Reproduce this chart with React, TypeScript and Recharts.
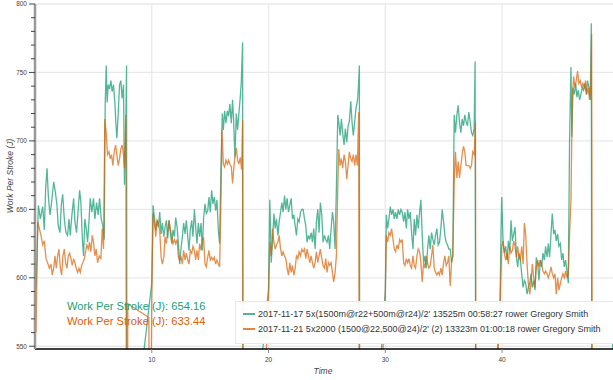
import { LineChart, Line, XAxis, YAxis, CartesianGrid } from "recharts";

const GREEN = "#1b9e77";
const ORANGE = "#d95f02";

const greenSession =
  "2017-11-17 5x(1500m@r22+500m@r24)/2' 13525m 00:58:27 rower Gregory Smith";
const orangeSession =
  "2017-11-21 5x2000 (1500@22,500@24)/2' (2) 13323m 01:00:18 rower Gregory Smith";

const greenAverage = 654.16;
const orangeAverage = 633.44;

const xTicks = [10, 20, 30, 40];
const yTicks = [
  550, 560, 570, 580, 590, 600, 610, 620, 630, 640, 650, 660, 670, 680, 690,
  700, 710, 720, 730, 740, 750, 760, 770, 780, 790, 800,
];
const yGrid = [550, 600, 650, 700, 750, 800];

// [time (min), work per stroke (J)]
const greenPoints: [number, number][] = [
  // interval 1
  [0.09, 592], [0.29, 653], [0.46, 643], [0.66, 652], [0.8, 635], [0.91, 665], [1.03, 680], [1.14, 660],
  [1.28, 646], [1.42, 655], [1.6, 670], [1.74, 663], [1.88, 653], [1.99, 638], [2.14, 633], [2.25, 653],
  [2.37, 661], [2.51, 643], [2.65, 633], [2.79, 631], [2.91, 643], [3.02, 631], [3.16, 646], [3.31, 658],
  [3.42, 641], [3.56, 633], [3.7, 650], [3.82, 664], [3.93, 655], [4.07, 626], [4.16, 616], [4.27, 643],
  [4.39, 636], [4.5, 626], [4.62, 641], [4.73, 658], [4.87, 648], [5.01, 658], [5.13, 643], [5.27, 655],
  [5.41, 646], [5.53, 658], [5.67, 643], [5.81, 638], [5.93, 628], [6.01, 726], [6.1, 755], [6.18, 728],
  [6.27, 741], [6.38, 738], [6.5, 744], [6.61, 736], [6.72, 741], [6.84, 728], [6.92, 714], [7.01, 702],
  [7.12, 719], [7.24, 741], [7.35, 744], [7.46, 731], [7.58, 741], [7.66, 668], [7.75, 694], [7.84, 755],
  [7.89, 300], [8.6, 250], [9.1, 530],
  // interval 2
  [10.0, 596], [10.11, 653], [10.23, 644], [10.34, 635], [10.46, 642], [10.57, 637], [10.68, 648], [10.8, 632],
  [10.91, 640], [11.03, 630], [11.14, 637], [11.25, 642], [11.37, 629], [11.48, 642], [11.6, 632], [11.71, 625],
  [11.82, 635], [11.94, 630], [12.05, 644], [12.17, 637], [12.28, 625], [12.39, 610], [12.51, 622], [12.62, 630],
  [12.73, 640], [12.85, 632], [12.96, 642], [13.08, 630], [13.19, 620], [13.3, 635], [13.42, 642], [13.53, 630],
  [13.65, 650], [13.76, 637], [13.87, 625], [13.99, 640], [14.1, 630], [14.22, 640], [14.33, 620], [14.44, 644],
  [14.56, 654], [14.67, 647], [14.79, 649], [14.9, 659], [15.01, 648], [15.13, 664], [15.24, 654], [15.36, 659],
  [15.47, 649], [15.58, 657], [15.7, 635], [15.81, 625], [15.93, 683], [16.04, 720], [16.13, 708], [16.24, 722],
  [16.35, 713], [16.47, 722], [16.58, 718], [16.69, 727], [16.81, 713], [16.92, 730], [17.01, 715], [17.12, 688],
  [17.24, 720], [17.35, 708], [17.46, 720], [17.58, 732], [17.66, 742], [17.78, 772], [17.83, 300],
  [18.5, 250], [19.2, 520],
  // interval 3
  [20.0, 592], [20.11, 657], [20.23, 611], [20.34, 626], [20.46, 647], [20.57, 636], [20.68, 643], [20.8, 631],
  [20.91, 641], [21.03, 648], [21.14, 655], [21.25, 648], [21.37, 660], [21.48, 650], [21.59, 658], [21.71, 648],
  [21.82, 653], [21.94, 658], [22.05, 643], [22.17, 646], [22.28, 638], [22.39, 631], [22.51, 643], [22.62, 641],
  [22.74, 648], [22.85, 650], [22.96, 650], [23.08, 643], [23.19, 638], [23.3, 626], [23.42, 631], [23.53, 628],
  [23.65, 633], [23.76, 626], [23.87, 636], [23.99, 621], [24.1, 641], [24.22, 650], [24.33, 633], [24.44, 655],
  [24.56, 646], [24.67, 626], [24.79, 631], [24.9, 628], [25.01, 626], [25.13, 631], [25.24, 621], [25.36, 636],
  [25.47, 648], [25.58, 641], [25.7, 621], [25.81, 665], [25.93, 719], [26.01, 714], [26.13, 704], [26.24, 716],
  [26.35, 706], [26.47, 697], [26.58, 709], [26.7, 699], [26.81, 711], [26.92, 714], [27.04, 729], [27.15, 714],
  [27.26, 704], [27.38, 714], [27.49, 724], [27.61, 729], [27.69, 738], [27.78, 755], [27.83, 300],
  [28.5, 250], [29.3, 500],
  // interval 4
  [30.0, 590], [30.09, 646], [30.2, 636], [30.31, 643], [30.43, 652], [30.54, 646], [30.66, 650], [30.77, 643],
  [30.88, 648], [31.0, 643], [31.11, 650], [31.23, 646], [31.34, 650], [31.45, 648], [31.57, 641], [31.68, 648],
  [31.8, 636], [31.91, 650], [32.02, 643], [32.14, 648], [32.25, 633], [32.37, 621], [32.48, 643], [32.59, 631],
  [32.71, 646], [32.82, 636], [32.94, 648], [33.05, 657], [33.16, 631], [33.28, 611], [33.39, 616], [33.51, 607],
  [33.62, 621], [33.73, 631], [33.85, 621], [33.96, 633], [34.07, 628], [34.19, 624], [34.3, 631], [34.42, 636],
  [34.53, 624], [34.64, 626], [34.76, 636], [34.87, 650], [34.99, 641], [35.1, 631], [35.21, 626], [35.33, 624],
  [35.44, 621], [35.56, 621], [35.67, 611], [35.78, 616], [35.9, 719], [36.01, 706], [36.13, 719], [36.24, 726],
  [36.35, 714], [36.47, 706], [36.58, 716], [36.7, 711], [36.81, 719], [36.92, 714], [37.04, 711], [37.15, 721],
  [37.27, 714], [37.38, 706], [37.49, 704], [37.61, 709], [37.69, 758], [37.78, 300],
  [38.5, 250], [39.2, 480],
  // interval 5
  [39.83, 583], [39.91, 635], [39.97, 659], [40.09, 625], [40.2, 618], [40.31, 623], [40.43, 613], [40.54, 627],
  [40.66, 620], [40.77, 642], [40.88, 627], [41.0, 632], [41.11, 637], [41.23, 615], [41.34, 608], [41.45, 618],
  [41.57, 613], [41.68, 603], [41.8, 593], [41.91, 598], [42.02, 596], [42.14, 588], [42.25, 593], [42.37, 596],
  [42.48, 603], [42.59, 593], [42.71, 598], [42.82, 591], [42.93, 615], [43.05, 610], [43.16, 598], [43.28, 613],
  [43.39, 608], [43.5, 618], [43.62, 613], [43.73, 623], [43.85, 615], [43.96, 625], [44.07, 615], [44.19, 632],
  [44.3, 647], [44.42, 632], [44.53, 635], [44.64, 627], [44.76, 632], [44.87, 623], [44.99, 625], [45.1, 613],
  [45.21, 618], [45.33, 608], [45.44, 613], [45.56, 605], [45.67, 596], [45.78, 700], [45.9, 754], [45.98, 703],
  [46.07, 739], [46.18, 734], [46.3, 742], [46.41, 732], [46.53, 737], [46.64, 730], [46.75, 734], [46.87, 739],
  [46.98, 737], [47.09, 742], [47.21, 734], [47.32, 744], [47.44, 739], [47.55, 730], [47.64, 786], [47.72, 300],
  [48.4, 250], [49.1, 480], [49.6, 575],
];

const orangePoints: [number, number][] = [
  // interval 1
  [0.09, 560], [0.23, 641], [0.37, 636], [0.51, 631], [0.66, 624], [0.8, 627], [0.94, 614], [1.08, 611],
  [1.23, 607], [1.37, 610], [1.48, 602], [1.6, 607], [1.71, 616], [1.82, 607], [1.94, 616], [2.05, 621],
  [2.17, 607], [2.28, 602], [2.39, 616], [2.51, 621], [2.62, 611], [2.74, 607], [2.85, 616], [2.96, 618],
  [3.08, 614], [3.19, 609], [3.31, 614], [3.42, 611], [3.53, 607], [3.65, 604], [3.76, 607], [3.88, 604],
  [3.99, 609], [4.1, 611], [4.22, 614], [4.33, 619], [4.44, 624], [4.56, 621], [4.67, 626], [4.79, 619],
  [4.9, 631], [5.01, 626], [5.13, 616], [5.24, 621], [5.36, 611], [5.5, 616], [5.64, 614], [5.76, 636],
  [5.87, 621], [5.98, 716], [6.1, 706], [6.21, 690], [6.33, 692], [6.44, 687], [6.55, 690], [6.67, 682],
  [6.78, 692], [6.9, 697], [7.01, 690], [7.12, 682], [7.24, 687], [7.35, 694], [7.46, 697], [7.58, 690],
  [7.66, 680], [7.78, 719], [7.86, 300], [7.95, 581], [9.75, 571], [9.85, 400],
  // interval 2
  [10.0, 585], [10.11, 647], [10.23, 640], [10.34, 630], [10.46, 642], [10.57, 640], [10.68, 635], [10.8, 615],
  [10.91, 610], [11.03, 615], [11.14, 630], [11.25, 625], [11.37, 635], [11.48, 642], [11.6, 635], [11.71, 630],
  [11.82, 625], [11.94, 628], [12.05, 625], [12.17, 628], [12.28, 615], [12.39, 613], [12.51, 615], [12.62, 610],
  [12.73, 620], [12.85, 613], [12.96, 618], [13.08, 613], [13.19, 610], [13.3, 620], [13.42, 618], [13.53, 623],
  [13.65, 620], [13.76, 613], [13.87, 620], [13.99, 613], [14.1, 625], [14.22, 620], [14.33, 628], [14.44, 629],
  [14.56, 610], [14.67, 608], [14.79, 615], [14.9, 620], [15.01, 613], [15.13, 615], [15.24, 613], [15.36, 615],
  [15.47, 610], [15.58, 613], [15.7, 610], [15.81, 608], [15.93, 659], [16.01, 708], [16.13, 683], [16.24, 681],
  [16.35, 686], [16.47, 683], [16.58, 686], [16.69, 683], [16.81, 681], [16.92, 669], [17.01, 679], [17.12, 688],
  [17.24, 695], [17.35, 686], [17.46, 683], [17.58, 688], [17.69, 679], [17.78, 715], [17.83, 300],
  [18.5, 250], [19.3, 450],
  // interval 3
  [20.0, 585], [20.11, 626], [20.23, 616], [20.34, 636], [20.46, 626], [20.57, 621], [20.68, 624], [20.8, 626],
  [20.91, 631], [21.03, 621], [21.14, 616], [21.25, 619], [21.37, 616], [21.48, 614], [21.59, 607], [21.71, 602],
  [21.82, 611], [21.94, 604], [22.05, 609], [22.17, 602], [22.28, 607], [22.39, 616], [22.51, 614], [22.62, 619],
  [22.74, 616], [22.85, 621], [22.96, 619], [23.08, 621], [23.19, 614], [23.3, 621], [23.42, 616], [23.53, 611],
  [23.65, 616], [23.76, 611], [23.87, 607], [23.99, 611], [24.1, 619], [24.22, 611], [24.33, 616], [24.44, 621],
  [24.56, 614], [24.67, 609], [24.79, 607], [24.9, 614], [25.01, 604], [25.13, 611], [25.24, 609], [25.36, 611],
  [25.47, 604], [25.58, 597], [25.7, 604], [25.81, 616], [25.93, 665], [26.01, 694], [26.13, 682], [26.24, 687],
  [26.35, 680], [26.47, 690], [26.58, 685], [26.7, 672], [26.81, 682], [26.92, 692], [27.04, 687], [27.15, 685],
  [27.26, 690], [27.38, 682], [27.49, 690], [27.61, 682], [27.72, 721], [27.8, 300],
  [28.5, 250], [29.3, 450],
  // interval 4
  [30.0, 585], [30.09, 631], [30.2, 626], [30.31, 633], [30.43, 631], [30.54, 636], [30.66, 628], [30.77, 621],
  [30.88, 619], [31.0, 624], [31.11, 621], [31.23, 628], [31.34, 626], [31.45, 628], [31.57, 611], [31.68, 609],
  [31.8, 614], [31.91, 611], [32.02, 614], [32.14, 609], [32.25, 607], [32.37, 616], [32.48, 609], [32.59, 607],
  [32.71, 616], [32.82, 621], [32.94, 619], [33.05, 611], [33.16, 597], [33.28, 611], [33.39, 607], [33.51, 616],
  [33.62, 611], [33.73, 607], [33.85, 609], [33.96, 616], [34.07, 624], [34.19, 607], [34.3, 604], [34.42, 602],
  [34.53, 604], [34.64, 602], [34.76, 607], [34.87, 602], [34.99, 611], [35.1, 616], [35.21, 609], [35.33, 611],
  [35.44, 616], [35.56, 594], [35.67, 611], [35.78, 616], [35.9, 670], [36.01, 692], [36.13, 673], [36.24, 685],
  [36.35, 673], [36.47, 682], [36.58, 690], [36.7, 696], [36.81, 692], [36.92, 682], [37.04, 682], [37.15, 682],
  [37.27, 680], [37.38, 682], [37.49, 692], [37.61, 690], [37.72, 714], [37.8, 300],
  [38.5, 250], [39.2, 450],
  // interval 5
  [39.83, 580], [39.97, 623], [40.09, 627], [40.2, 618], [40.31, 613], [40.43, 618], [40.54, 610], [40.66, 623],
  [40.77, 618], [40.88, 620], [41.0, 627], [41.11, 623], [41.23, 615], [41.34, 623], [41.45, 615], [41.57, 613],
  [41.68, 623], [41.8, 610], [41.91, 640], [42.02, 632], [42.14, 610], [42.25, 596], [42.37, 588], [42.48, 596],
  [42.59, 610], [42.71, 600], [42.82, 593], [42.93, 608], [43.05, 613], [43.16, 608], [43.28, 613], [43.39, 610],
  [43.5, 605], [43.62, 603], [43.73, 605], [43.85, 603], [43.96, 600], [44.07, 603], [44.19, 608], [44.3, 603],
  [44.42, 600], [44.53, 603], [44.64, 588], [44.76, 600], [44.87, 591], [44.99, 596], [45.1, 600], [45.21, 603],
  [45.33, 600], [45.44, 605], [45.56, 600], [45.67, 603], [45.78, 632], [45.9, 657], [46.01, 730], [46.13, 747],
  [46.24, 739], [46.35, 744], [46.47, 751], [46.58, 742], [46.7, 744], [46.81, 739], [46.92, 742], [47.04, 739],
  [47.15, 744], [47.26, 734], [47.38, 739], [47.49, 730], [47.61, 742], [47.67, 778], [47.75, 300],
  [48.5, 250], [49.6, 300],
];

const greenData = greenPoints.map(([t, wps]) => ({ t, wps }));
const orangeData = orangePoints.map(([t, wps]) => ({ t, wps }));

function YTick(props: any) {
  const { x, y, payload } = props;
  const major = payload.value % 50 === 0;
  return (
    <g>
      <line x1={x - (major ? 6 : 4)} x2={x} y1={y} y2={y} stroke="#444" strokeWidth={1} />
      {major && (
        <text x={x - 8} y={y} dy={2.3} textAnchor="end" fontSize={6.5} fill="#444">
          {payload.value}
        </text>
      )}
    </g>
  );
}

export default function App() {
  return (
    <div
      style={{
        position: "absolute",
        left: 0,
        top: 0,
        width: 613,
        height: 380,
        background: "#fff",
        fontFamily: "'Liberation Sans', Arial, sans-serif",
      }}
    >
      <LineChart width={613} height={380} margin={{ top: 4, right: 0, bottom: 0, left: 0 }}>
        <CartesianGrid
          horizontalValues={yGrid}
          verticalValues={xTicks}
          stroke="#e9e9e9"
          strokeWidth={1.3}
        />
        <XAxis
          dataKey="t"
          type="number"
          domain={[0, 49.5]}
          ticks={xTicks}
          interval={0}
          allowDataOverflow
          height={31}
          tickSize={4}
          tickMargin={4}
          tick={{ fontSize: 6.5, fill: "#444" }}
          tickLine={{ stroke: "#888" }}
          axisLine={{ stroke: "#000", strokeWidth: 1.5 }}
        />
        <YAxis
          type="number"
          domain={[548, 800]}
          ticks={yTicks}
          interval={0}
          allowDataOverflow
          width={35}
          tickSize={0}
          tickMargin={0}
          tickLine={false}
          tick={<YTick />}
          axisLine={{ stroke: "#999", strokeWidth: 2.5 }}
        />
        <Line
          data={greenData}
          dataKey="wps"
          type="linear"
          stroke={GREEN}
          strokeWidth={1.3}
          strokeOpacity={0.75}
          dot={false}
          isAnimationActive={false}
        />
        <Line
          data={orangeData}
          dataKey="wps"
          type="linear"
          stroke={ORANGE}
          strokeWidth={1.3}
          strokeOpacity={0.7}
          dot={false}
          isAnimationActive={false}
        />
      </LineChart>
      <svg
        width={613}
        height={380}
        style={{ position: "absolute", left: 0, top: 0, pointerEvents: "none" }}
      >
        <text
          transform="translate(13,176) rotate(-90)"
          textAnchor="middle"
          fontSize={8.5}
          fontStyle="italic"
          fill="#444"
        >
          Work Per Stroke (J)
        </text>
        <text x={323} y={374} textAnchor="middle" fontSize={8.5} fontStyle="italic" fill="#444">
          Time
        </text>
        <text x={67} y={309.8} fontSize={11.2} fill={GREEN}>
          Work Per Stroke (J): {greenAverage.toFixed(2)}
        </text>
        <text x={67} y={324.8} fontSize={11.2} fill={ORANGE}>
          Work Per Stroke (J): {orangeAverage.toFixed(2)}
        </text>
        <rect
          x={235.5}
          y={301.5}
          width={400}
          height={42}
          fill="#fff"
          fillOpacity={0.95}
          stroke="#e8e8e8"
        />
        <line x1={243} x2={255} y1={314} y2={314} stroke={GREEN} strokeWidth={1.5} />
        <text x={258} y={317.2} fontSize={9} fill="#333">
          {greenSession}
        </text>
        <line x1={243} x2={255} y1={329} y2={329} stroke={ORANGE} strokeWidth={1.5} />
        <text x={258} y={332.2} fontSize={9} fill="#333">
          {orangeSession}
        </text>
      </svg>
    </div>
  );
}
